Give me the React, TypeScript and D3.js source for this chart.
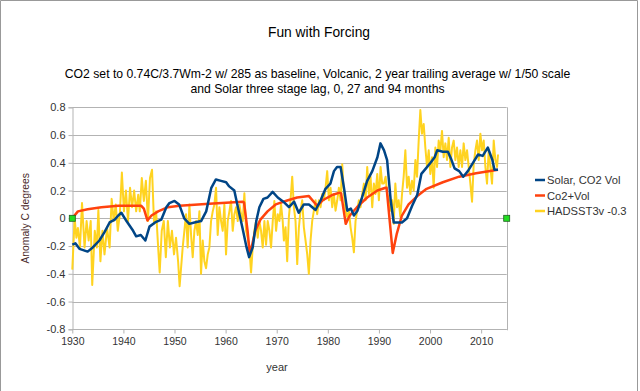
import React, { useRef, useEffect } from 'react';
import * as d3 from 'd3';

// HADSST3 monthly anomaly minus 0.3
const hadsst: [number, number][] = [
  [1930.0, -0.37], [1930.46, 0.0], [1930.8, -0.14], [1931.1, -0.07], [1931.5, -0.21], [1931.9, 0.11],
  [1932.4, -0.21], [1932.8, -0.02], [1933.2, -0.16], [1933.6, -0.02], [1933.9, -0.48], [1934.4, -0.09],
  [1934.8, -0.21], [1935.1, 0.06], [1935.5, -0.31], [1935.9, -0.09], [1936.3, -0.26], [1936.8, -0.07],
  [1937.3, -0.21], [1937.7, 0.14], [1938.1, -0.02], [1938.5, 0.10], [1938.9, -0.09], [1939.3, 0.03],
  [1939.7, 0.33], [1940.1, 0.05], [1940.5, 0.20], [1940.9, -0.02], [1941.3, 0.22], [1941.7, 0.08],
  [1942.1, 0.20], [1942.5, 0.05], [1942.9, 0.17], [1943.2, 0.05], [1943.6, 0.29], [1944.0, 0.125],
  [1944.4, 0.27], [1944.8, -0.02], [1945.2, 0.29], [1945.6, 0.35], [1946.0, -0.04], [1946.4, 0.05],
  [1946.8, -0.21], [1947.1, -0.39], [1947.5, -0.09], [1947.9, -0.02], [1948.3, -0.28], [1948.7, -0.02],
  [1949.1, -0.21], [1949.5, -0.09], [1949.9, -0.26], [1950.3, -0.14], [1950.7, -0.31], [1951.0, -0.49],
  [1951.28, -0.36], [1951.6, -0.21], [1951.93, -0.09], [1952.26, 0.03], [1952.58, -0.21], [1952.91, 0.10],
  [1953.24, -0.12], [1953.56, -0.28], [1953.89, -0.09], [1954.21, -0.02], [1954.54, -0.12], [1954.87, 0.05],
  [1955.19, -0.40], [1955.52, -0.16], [1955.84, -0.31], [1956.17, -0.36], [1956.5, -0.26], [1956.82, -0.21],
  [1957.15, -0.02], [1957.48, 0.05], [1957.8, 0.10], [1958.13, 0.22], [1958.45, -0.12], [1958.78, 0.08],
  [1959.11, -0.02], [1959.43, -0.09], [1959.76, 0.10], [1960.08, -0.26], [1960.41, -0.02], [1960.74, 0.05],
  [1961.06, 0.125], [1961.39, -0.09], [1961.72, 0.03], [1962.04, 0.08], [1962.37, -0.02], [1962.69, 0.10],
  [1963.02, 0.03], [1963.35, -0.02], [1963.67, 0.18], [1964.0, -0.09], [1964.32, -0.14], [1964.65, -0.21],
  [1964.98, -0.39], [1965.3, -0.21], [1965.63, -0.09], [1965.96, -0.02], [1966.28, -0.14], [1966.61, -0.02],
  [1966.93, -0.09], [1967.26, -0.21], [1967.59, -0.02], [1967.91, -0.19], [1968.24, -0.02], [1968.57, -0.09],
  [1968.89, -0.21], [1969.22, -0.02], [1969.54, 0.125], [1969.87, -0.09], [1970.2, 0.03], [1970.52, -0.02],
  [1970.85, 0.10], [1971.17, -0.02], [1971.4, -0.16], [1971.73, -0.065], [1972.05, -0.31], [1972.38, 0.01],
  [1972.7, 0.13], [1973.03, 0.30], [1973.36, 0.08], [1973.68, -0.02], [1974.01, -0.33], [1974.34, -0.065],
  [1974.66, 0.055], [1974.99, 0.13], [1975.31, -0.065], [1975.64, -0.16], [1975.97, -0.26], [1976.29, -0.40],
  [1976.62, -0.16], [1976.94, -0.02], [1977.27, 0.055], [1977.6, 0.13], [1977.92, 0.03], [1978.25, 0.13],
  [1978.58, 0.08], [1978.9, 0.175], [1979.23, 0.13], [1979.55, 0.22], [1979.88, 0.34], [1980.21, 0.13],
  [1980.53, 0.22], [1980.86, 0.08], [1981.18, 0.175], [1981.51, 0.055], [1981.84, 0.13], [1982.16, 0.22],
  [1982.49, 0.13], [1982.82, 0.39], [1983.14, 0.175], [1983.47, 0.055], [1983.79, 0.01], [1984.12, 0.055],
  [1984.45, -0.065], [1984.77, -0.14], [1985.1, -0.245], [1985.42, -0.02], [1985.75, 0.055], [1986.08, 0.13],
  [1986.4, 0.08], [1986.73, 0.175], [1987.06, 0.25], [1987.38, 0.13], [1987.71, 0.37], [1988.03, 0.175],
  [1988.36, 0.30], [1988.69, 0.08], [1989.01, 0.25], [1989.34, 0.175], [1989.67, 0.32], [1989.99, 0.13],
  [1990.32, 0.37], [1990.64, 0.25], [1990.97, 0.25], [1991.3, 0.30], [1991.62, 0.175], [1991.95, 0.13],
  [1992.27, 0.055], [1992.6, 0.13], [1992.89, -0.04], [1993.21, 0.25], [1993.54, 0.08], [1993.86, 0.13],
  [1994.19, 0.01], [1994.52, 0.175], [1994.84, 0.30], [1995.17, 0.49], [1995.5, 0.22], [1995.82, 0.30],
  [1996.15, 0.175], [1996.47, 0.27], [1996.8, 0.20], [1997.13, 0.42], [1997.45, 0.30], [1997.78, 0.56],
  [1998.1, 0.78], [1998.43, 0.61], [1998.76, 0.68], [1999.08, 0.51], [1999.41, 0.37], [1999.74, 0.49],
  [2000.06, 0.32], [2000.39, 0.44], [2000.71, 0.22], [2001.04, 0.51], [2001.37, 0.37], [2001.69, 0.56],
  [2002.02, 0.49], [2002.34, 0.63], [2002.67, 0.44], [2003.0, 0.54], [2003.32, 0.42], [2003.65, 0.58],
  [2003.98, 0.37], [2004.3, 0.51], [2004.63, 0.56], [2004.95, 0.42], [2005.28, 0.51], [2005.61, 0.37],
  [2005.93, 0.49], [2006.26, 0.37], [2006.58, 0.54], [2006.91, 0.42], [2007.24, 0.49], [2007.56, 0.37],
  [2007.89, 0.25], [2008.22, 0.12], [2008.54, 0.39], [2008.87, 0.49], [2009.19, 0.56], [2009.52, 0.42],
  [2009.85, 0.61], [2010.17, 0.49], [2010.5, 0.56], [2010.83, 0.37], [2011.15, 0.25], [2011.48, 0.49],
  [2011.8, 0.37], [2012.13, 0.25], [2012.46, 0.56], [2012.78, 0.42], [2013.11, 0.37], [2013.3, 0.46],
];

// Solar, CO2 Vol model
const solarCo2Vol: [number, number][] = [
  [1930.0, -0.19], [1930.6, -0.18], [1931.4, -0.22], [1933.0, -0.24], [1934.0, -0.21], [1935.3, -0.16],
  [1936.3, -0.10], [1937.3, -0.03], [1938.3, -0.01], [1939.0, 0.02], [1939.6, 0.04], [1940.6, -0.02],
  [1941.9, -0.09], [1942.5, -0.13], [1943.4, -0.12], [1944.3, -0.16], [1945.1, -0.06], [1946.2, -0.03],
  [1947.4, -0.01], [1948.4, 0.08], [1949.0, 0.11], [1950.0, 0.125], [1950.9, 0.10], [1951.9, 0.0],
  [1952.9, -0.04], [1953.9, -0.03], [1955.2, -0.02], [1956.2, 0.05], [1957.2, 0.22], [1958.1, 0.28],
  [1959.1, 0.27], [1960.1, 0.26], [1960.7, 0.23], [1961.7, 0.20], [1962.4, 0.08], [1963.3, -0.07],
  [1964.1, -0.21], [1964.6, -0.28], [1965.3, -0.21], [1966.0, -0.02], [1966.6, 0.08], [1967.4, 0.14],
  [1968.2, 0.15], [1969.2, 0.19], [1970.2, 0.15], [1971.3, 0.12], [1972.4, 0.08], [1973.4, 0.12],
  [1974.3, 0.04], [1975.3, 0.10], [1976.3, 0.10], [1977.6, 0.06], [1978.6, 0.13], [1979.5, 0.21],
  [1980.5, 0.25], [1981.2, 0.34], [1981.8, 0.37], [1982.5, 0.37], [1983.2, 0.21], [1983.8, 0.055],
  [1984.5, 0.07], [1985.1, 0.02], [1985.8, 0.055], [1986.7, 0.15], [1987.7, 0.27], [1988.7, 0.34],
  [1989.7, 0.44], [1990.3, 0.54], [1991.0, 0.49], [1991.6, 0.42], [1992.3, 0.13], [1992.9, -0.03],
  [1993.5, -0.03], [1994.5, -0.03], [1995.5, 0.0], [1996.5, 0.09], [1997.5, 0.17], [1998.3, 0.32],
  [1999.2, 0.36], [2000.1, 0.40], [2000.9, 0.44], [2001.4, 0.49], [2002.5, 0.48], [2003.5, 0.48],
  [2004.1, 0.43], [2004.8, 0.36], [2005.7, 0.34], [2006.5, 0.30], [2007.4, 0.34], [2008.4, 0.40],
  [2009.4, 0.46], [2010.3, 0.45], [2011.3, 0.51], [2012.2, 0.42], [2012.6, 0.35], [2013.3, 0.35],
];

// Co2+Vol model
const co2Vol: [number, number][] = [
  [1930.0, 0.0], [1931.1, 0.05], [1933.0, 0.065], [1935.7, 0.08], [1939.0, 0.09], [1943.5, 0.09],
  [1944.0, 0.07], [1944.7, -0.015], [1945.5, 0.02], [1946.8, 0.05], [1948.7, 0.08], [1951.0, 0.09],
  [1956.8, 0.105], [1963.3, 0.12], [1963.6, 0.115], [1964.3, -0.09], [1964.7, -0.25], [1965.2, -0.19],
  [1965.8, -0.09], [1966.8, -0.01], [1968.2, 0.05], [1969.8, 0.10], [1972.2, 0.13], [1974.0, 0.15],
  [1976.3, 0.16], [1977.9, 0.09], [1979.0, 0.13], [1981.0, 0.17], [1982.3, 0.185], [1982.6, 0.18],
  [1983.5, -0.04], [1984.3, 0.02], [1985.7, 0.08], [1987.7, 0.15], [1989.7, 0.20], [1991.3, 0.22],
  [1991.5, 0.22], [1992.7, -0.25], [1993.5, -0.11], [1994.5, 0.02], [1995.8, 0.10], [1997.5, 0.16],
  [1999.2, 0.21], [2002.5, 0.26], [2005.7, 0.30], [2009.0, 0.325], [2013.3, 0.35],
];

// two marker points on the zero line
const zeroMarks: [number, number][] = [[1930, 0], [2015, 0]];

const xTicks = [1930, 1940, 1950, 1960, 1970, 1980, 1990, 2000, 2010];
const yTicks = [-0.8, -0.6, -0.4, -0.2, 0, 0.2, 0.4, 0.6, 0.8];

const legendItems = [
  { label: 'Solar, CO2 Vol', color: '#004586' },
  { label: 'Co2+Vol', color: '#ff420e' },
  { label: 'HADSST3v -0.3', color: '#ffd320' },
];

const W = 640;
const H = 391;

export default function App() {
  const svgRef = useRef<SVGSVGElement>(null);

  useEffect(() => {
    const svg = d3.select(svgRef.current);
    svg.selectAll('*').remove();

    const font = '"Liberation Sans", Arial, sans-serif';
    const plot = { left: 72.3, right: 506.7, top: 107.3, bottom: 329.3 };

    const x = d3.scaleLinear().domain([1930, 2015]).range([plot.left, plot.right]);
    const y = d3.scaleLinear().domain([-0.8, 0.8]).range([plot.bottom, plot.top]);

    svg.append('rect').attr('width', W).attr('height', H).attr('fill', '#fff');

    // outer frame
    svg.append('path')
      .attr('d', `M0.5,${H} V0.5 H637.5 V${H}`)
      .attr('fill', 'none')
      .attr('stroke', '#999');

    // titles
    svg.append('text')
      .attr('x', 319).attr('y', 36.5)
      .attr('text-anchor', 'middle')
      .style('font-family', font).style('font-size', '13.8px').attr('fill', '#000')
      .text('Fun with Forcing');

    const sub = ['CO2 set to 0.74C/3.7Wm-2 w/ 285 as baseline, Volcanic, 2 year trailing average w/ 1/50 scale',
      'and Solar three stage lag, 0, 27 and 94 months'];
    sub.forEach((s, i) => {
      svg.append('text')
        .attr('x', 317.5).attr('y', 77.5 + i * 15.5)
        .attr('text-anchor', 'middle')
        .style('font-family', font).style('font-size', '12.2px').attr('fill', '#000')
        .text(s);
    });

    // gridlines
    svg.append('g')
      .selectAll('line')
      .data(yTicks)
      .enter()
      .append('line')
      .attr('x1', plot.left).attr('x2', plot.right)
      .attr('y1', d => Math.round(y(d)) + 0.5).attr('y2', d => Math.round(y(d)) + 0.5)
      .attr('stroke', '#b3b3b3');

    svg.append('line')
      .attr('x1', Math.round(plot.right) + 0.5).attr('x2', Math.round(plot.right) + 0.5)
      .attr('y1', plot.top).attr('y2', plot.bottom + 1)
      .attr('stroke', '#b3b3b3');

    // y axis
    svg.append('g')
      .attr('transform', `translate(${Math.round(plot.left) + 0.5},0)`)
      .call(d3.axisLeft(y).tickValues(yTicks).tickSize(4).tickPadding(3)
        .tickFormat(d => (+d === 0 ? '0' : (+d).toFixed(1))))
      .call(g => g.selectAll('path, line').attr('stroke', '#b3b3b3'))
      .call(g => g.selectAll('text').style('font-family', font).style('font-size', '11px').attr('fill', '#333'));

    // x axis
    svg.append('g')
      .attr('transform', `translate(0,${Math.round(plot.bottom) + 0.5})`)
      .call(d3.axisBottom(x).tickValues(xTicks).tickSize(4).tickPadding(4).tickFormat(d => String(d)))
      .call(g => g.select('.domain').attr('d', `M${plot.left},0H${plot.right}`))
      .call(g => g.selectAll('path, line').attr('stroke', '#b3b3b3'))
      .call(g => g.selectAll('text').style('font-family', font).style('font-size', '10.5px').attr('fill', '#333'));

    // axis titles
    svg.append('text')
      .attr('transform', `translate(28.5,${(plot.top + plot.bottom) / 2}) rotate(-90)`)
      .attr('text-anchor', 'middle')
      .style('font-family', font).style('font-size', '10.3px').attr('fill', '#4a2a2a')
      .text('Anomaly C degrees');

    svg.append('text')
      .attr('x', 277).attr('y', 371)
      .attr('text-anchor', 'middle')
      .style('font-family', font).style('font-size', '11px').attr('fill', '#333')
      .text('year');

    const line = d3.line<[number, number]>()
      .x(d => x(d[0]))
      .y(d => y(d[1]));

    // series
    svg.append('path').datum(hadsst)
      .attr('d', line).attr('fill', 'none')
      .attr('stroke', '#ffd320').attr('stroke-width', 2).attr('stroke-linejoin', 'round');

    svg.append('path').datum(co2Vol)
      .attr('d', line).attr('fill', 'none')
      .attr('stroke', '#ff420e').attr('stroke-width', 2.5).attr('stroke-linejoin', 'round');

    svg.append('path').datum(solarCo2Vol)
      .attr('d', line).attr('fill', 'none')
      .attr('stroke', '#004586').attr('stroke-width', 2.5).attr('stroke-linejoin', 'round');

    svg.append('g')
      .selectAll('rect')
      .data(zeroMarks)
      .enter()
      .append('rect')
      .attr('x', d => x(d[0]) - 3).attr('y', d => y(d[1]) - 3)
      .attr('width', 6).attr('height', 6)
      .attr('fill', '#22dd22').attr('stroke', '#1f5f1f').attr('stroke-width', 0.8);

    // legend
    const legend = svg.append('g').attr('transform', 'translate(535,180)');
    legend.selectAll('line')
      .data(legendItems)
      .enter()
      .append('line')
      .attr('x1', 0).attr('x2', 10)
      .attr('y1', (d, i) => i * 15.5).attr('y2', (d, i) => i * 15.5)
      .attr('stroke', d => d.color).attr('stroke-width', 2.5);
    legend.selectAll('text')
      .data(legendItems)
      .enter()
      .append('text')
      .attr('x', 12).attr('y', (d, i) => i * 15.5 + 4)
      .style('font-family', font).style('font-size', '11.2px').attr('fill', '#333')
      .text(d => d.label);
  }, []);

  return (
    <div style={{ position: 'fixed', left: 0, top: 0 }}>
      <svg ref={svgRef} width={W} height={H} style={{ display: 'block' }} />
    </div>
  );
}
